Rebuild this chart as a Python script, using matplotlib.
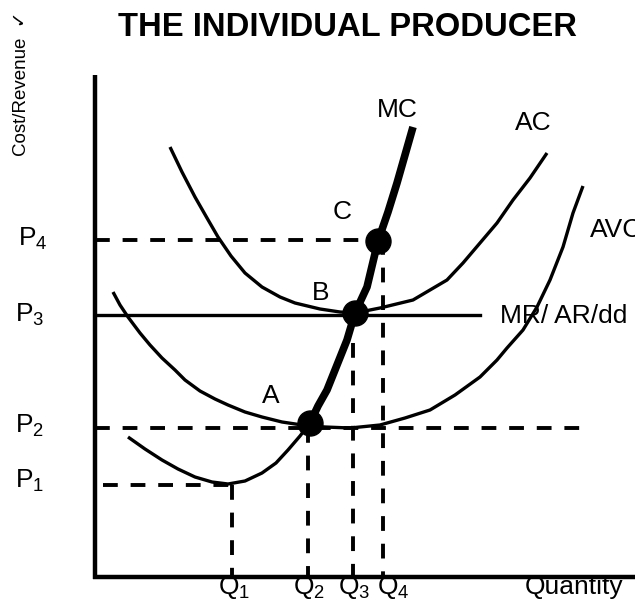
import matplotlib
matplotlib.use("Agg")
import matplotlib.pyplot as plt

plt.rcParams['font.family'] = ['Liberation Sans', 'DejaVu Sans']
plt.rcParams['mathtext.fontset'] = 'custom'
plt.rcParams['mathtext.rm'] = 'Liberation Sans'
plt.rcParams['mathtext.it'] = 'Liberation Sans:italic'

# curve points (pixel-like units, y grows downward)
ac_x = [170, 182, 195, 207, 218, 231, 245, 262, 280, 295, 320, 340, 355, 380, 413, 447, 463, 480, 497, 513, 530, 547]
ac_y = [147, 172, 197, 218, 237, 256, 273, 287, 297, 303, 309, 312, 313, 308, 300, 280, 263, 243, 223, 200, 178, 153]

avc_x = [113, 120, 128, 140, 150, 162, 175, 185, 200, 215, 228, 245, 262, 282, 302, 325, 350, 380, 405, 430, 455, 480, 497, 507, 523, 537, 550, 563, 573, 583]
avc_y = [292, 305, 317, 333, 345, 358, 370, 380, 391, 399, 405, 412, 417, 422, 425, 427, 428, 425, 418, 410, 395, 377, 360, 348, 330, 307, 280, 247, 213, 186]

mc_low_x = [128, 145, 162, 178, 195, 212, 228, 245, 262, 276, 288, 300, 310]
mc_low_y = [437, 449, 460, 469, 477, 482, 484, 481, 473, 463, 450, 436, 423]
mc_up_x = [310, 318, 327, 337, 347, 355, 367, 378, 388, 397, 405, 413]
mc_up_y = [423, 406, 390, 365, 340, 313, 287, 241, 212, 183, 155, 127]

# price levels and quantities
p_levels = {'P4': 240, 'P3': 315, 'P2': 428, 'P1': 485}
q_levels = {'Q1': 232, 'Q2': 308, 'Q3': 353, 'Q4': 383}

pts_x = [310, 355, 378]
pts_y = [423, 313, 241]
pts_lab = ['A', 'B', 'C']

fig = plt.figure(figsize=(6.35, 6.0), dpi=100)
ax = fig.add_axes([0, 0, 1, 1])
ax.set_xlim(0, 635)
ax.set_ylim(600, 0)
ax.axis('off')

dash = dict(color='black', lw=2.8, linestyle=(0, (3.8, 3.3)))

# dashed guide lines
ax.plot([95, 378], [p_levels['P4']] * 2, **dash)
ax.plot([95, 587], [p_levels['P2']] * 2, **dash)
ax.plot([103, q_levels['Q1']], [p_levels['P1']] * 2, **dash)
ax.plot([q_levels['Q1']] * 2, [p_levels['P1'], 577], **dash)
ax.plot([q_levels['Q2']] * 2, [p_levels['P2'], 577], **dash)
ax.plot([q_levels['Q3']] * 2, [343, 577], **dash)
ax.plot([q_levels['Q4']] * 2, [p_levels['P4'], 577], **dash)

# MR line
ax.plot([95, 480], [p_levels['P3']] * 2, color='black', lw=2.4)

# curves
ax.plot(ac_x, ac_y, color='black', lw=2.4, solid_capstyle='butt')
ax.plot(avc_x, avc_y, color='black', lw=2.4, solid_capstyle='butt')
ax.plot(mc_low_x, mc_low_y, color='black', lw=2.4, solid_capstyle='butt')
ax.plot(mc_up_x, mc_up_y, color='black', lw=5.5, solid_capstyle='butt')

# axes
ax.plot([95, 95], [75, 579], color='black', lw=3.2, solid_capstyle='butt')
ax.plot([93, 635], [577, 577], color='black', lw=3.2, solid_capstyle='butt')

ax.plot(pts_x, pts_y, 'o', color='black', markersize=18)

fs = 19
ax.text(347, 36, 'THE INDIVIDUAL PRODUCER', fontsize=23.6, fontweight='bold', ha='center', va='baseline')
ax.text(22, 84, 'Cost/Revenue  \u2713', fontsize=13.5, rotation=90, ha='center', va='center')

p_left = {'P4': 18, 'P3': 15, 'P2': 15, 'P1': 15}
p_base = {'P4': 246, 'P3': 322, 'P2': 433, 'P1': 488}
for k in p_levels:
    ax.text(p_left[k], p_base[k], k[0] + '$_{' + k[1] + '}$', fontsize=fs, ha='left', va='baseline')

q_left = {'Q1': 218, 'Q2': 293, 'Q3': 338, 'Q4': 377}
for k in q_levels:
    ax.text(q_left[k], 594, k[0] + '$_{' + k[1] + '}$', fontsize=fs, ha='left', va='baseline')
ax.text(525, 594, 'Quantity', fontsize=fs, ha='left', va='baseline')

lab_pos = {'A': (262, 403), 'B': (312, 300), 'C': (333, 219)}
for lab in pts_lab:
    ax.text(lab_pos[lab][0], lab_pos[lab][1], lab, fontsize=fs, ha='left', va='baseline')

ax.text(377, 117, 'MC', fontsize=fs, ha='left', va='baseline')
ax.text(515, 130, 'AC', fontsize=fs, ha='left', va='baseline')
ax.text(590, 237, 'AVC', fontsize=fs, ha='left', va='baseline')
ax.text(500, 323, 'MR/ AR/dd', fontsize=fs, ha='left', va='baseline')

fig.savefig('out.png', dpi=100)
